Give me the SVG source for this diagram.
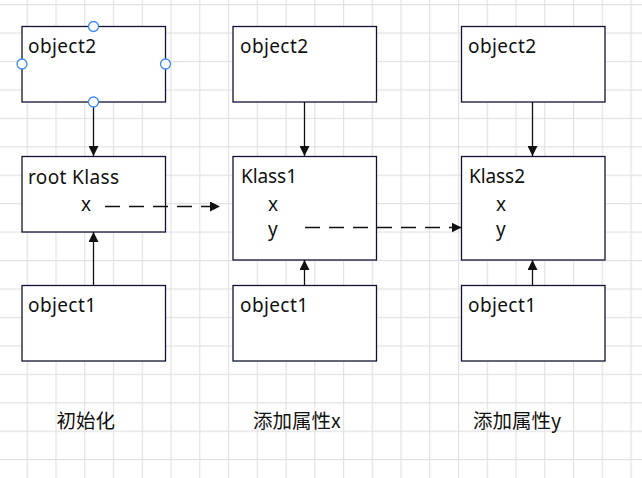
<svg xmlns="http://www.w3.org/2000/svg" width="642" height="478" viewBox="0 0 642 478">
<defs>
<pattern id="grid" patternUnits="userSpaceOnUse" x="26.7" y="4" width="28.75" height="28.44">
<path d="M0.5 0V28.44M0 0.5H28.75" stroke="#e2e2e2" stroke-width="1.4" fill="none"/>
</pattern>
<marker id="arr" viewBox="0 0 10 10" refX="10" refY="5" markerWidth="10" markerHeight="10" markerUnits="userSpaceOnUse" orient="auto">
<path d="M0 0L10 5L0 10Z" fill="#111"/>
</marker>
</defs>
<style>
.box{fill:#fff;stroke:#111133;stroke-width:1.3}
.t{font-family:"Noto Sans","Noto Sans CJK SC",sans-serif;font-size:19px;fill:#111}
.c{font-family:"Noto Sans CJK SC","Noto Sans",sans-serif;font-size:19.5px;fill:#111}
.ln{stroke:#111;stroke-width:1.3;fill:none}
.dash{stroke:#111;stroke-width:1.3;fill:none;stroke-dasharray:15 9}
.h{fill:#fff;stroke:#3d8af7;stroke-width:1.3}
</style>
<rect width="642" height="478" fill="#fff"/>
<rect width="642" height="478" fill="url(#grid)"/>
<g id="c1-rootklass">
<rect class="box" x="22" y="156.5" width="143.5" height="75.5"/>
<text class="t" x="28" y="184" textLength="91">root Klass</text>
<text class="t" x="81" y="211">x</text>
</g>
<g id="c1-object1">
<rect class="box" x="22" y="285.5" width="143.5" height="75.5"/>
<text class="t" x="28" y="312" textLength="68">object1</text>
</g>
<g id="c2-object2">
<rect class="box" x="233" y="26.5" width="143.5" height="75.5"/>
<text class="t" x="240" y="53" textLength="68">object2</text>
</g>
<g id="c2-klass1">
<rect class="box" x="233" y="156.5" width="143.5" height="103.5"/>
<text class="t" x="241" y="183" textLength="56">Klass1</text>
<text class="t" x="268" y="211">x</text>
<text class="t" x="268" y="236">y</text>
</g>
<g id="c2-object1">
<rect class="box" x="233" y="285.5" width="143.5" height="75.5"/>
<text class="t" x="240" y="312" textLength="68">object1</text>
</g>
<g id="c3-object2">
<rect class="box" x="461.5" y="26.5" width="143.5" height="75.5"/>
<text class="t" x="468" y="53" textLength="68">object2</text>
</g>
<g id="c3-klass2">
<rect class="box" x="461.5" y="156.5" width="143.5" height="103.5"/>
<text class="t" x="469" y="183" textLength="56">Klass2</text>
<text class="t" x="496" y="211">x</text>
<text class="t" x="496" y="236">y</text>
</g>
<g id="c3-object1">
<rect class="box" x="461.5" y="285.5" width="143.5" height="75.5"/>
<text class="t" x="468" y="312" textLength="68">object1</text>
</g>
<g id="connectors">
<path class="ln" d="M93.5 102V156" marker-end="url(#arr)"/>
<path class="ln" d="M93.5 285V232" marker-end="url(#arr)"/>
<path class="ln" d="M304.5 102V156" marker-end="url(#arr)"/>
<path class="ln" d="M304.5 285V260" marker-end="url(#arr)"/>
<path class="ln" d="M532.5 102V156" marker-end="url(#arr)"/>
<path class="ln" d="M532.5 285V260" marker-end="url(#arr)"/>
<path class="dash" d="M105 206.5H220" marker-end="url(#arr)"/>
<path class="dash" d="M305 227.5H461.5" marker-end="url(#arr)"/>
</g>
<g id="c1-object2">
<rect class="box" x="22" y="26.5" width="143.5" height="75.5"/>
<text class="t" x="28" y="53" textLength="68">object2</text>
<circle class="h" cx="93.5" cy="26.5" r="5"/>
<circle class="h" cx="22" cy="64" r="5"/>
<circle class="h" cx="165.5" cy="64" r="5"/>
<circle class="h" cx="93.5" cy="102" r="5"/>
</g>
<g id="labels">
<text class="c" x="56.5" y="428">初始化</text>
<text class="c" x="253" y="428">添加属性x</text>
<text class="c" x="473" y="428">添加属性y</text>
</g>
</svg>
